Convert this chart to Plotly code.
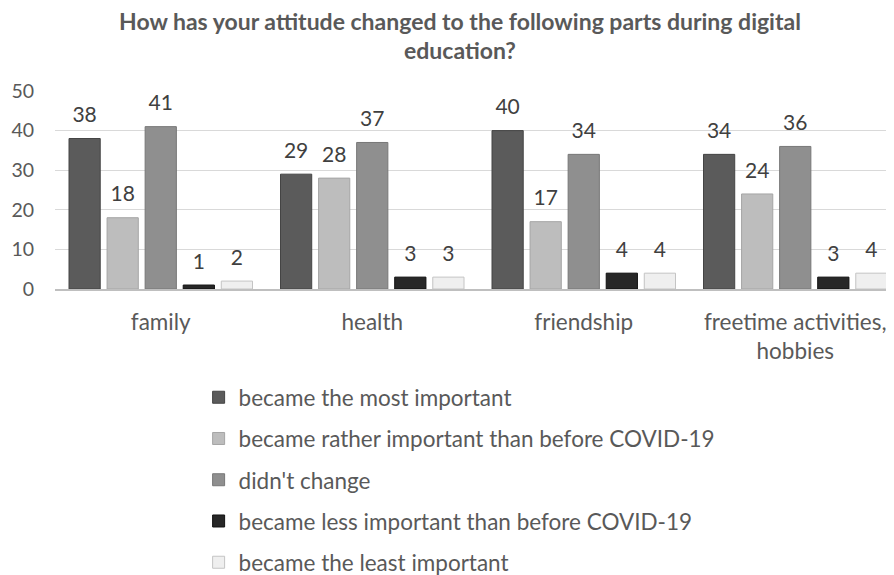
import plotly.graph_objects as go

categories = ["family", "health", "friendship", "freetime activities, hobbies"]
tick_labels = ["family", "health", "friendship", "freetime activities,<br>hobbies"]
series_names = [
    "became the most important",
    "became rather important than before COVID-19",
    "didn't change",
    "became less important than before COVID-19",
    "became the least important",
]
most_important = [38, 29, 40, 34]
rather_important = [18, 28, 17, 24]
didnt_change = [41, 37, 34, 36]
less_important = [1, 3, 4, 3]
least_important = [2, 3, 4, 4]

series_values = [most_important, rather_important, didnt_change, less_important, least_important]
fill_colors = ["#5b5b5b", "#bdbdbd", "#8f8f8f", "#272727", "#efefef"]
line_colors = ["#444444", "#a5a5a5", "#777777", "#111111", "#c4c4c4"]

FONT = "Lato"
fig = go.Figure()
for i, (name, vals) in enumerate(zip(series_names, series_values)):
    fig.add_trace(go.Bar(
        x=categories, y=vals, name=name,
        marker=dict(color=fill_colors[i], line=dict(color=line_colors[i], width=1)),
        offsetgroup=str(i), legendgroup=f"g{i}",
    ))
for i, vals in enumerate(series_values):
    fig.add_trace(go.Scatter(
        x=categories, y=vals, mode="markers+text", text=vals,
        textposition="top center", cliponaxis=False,
        marker=dict(size=16, opacity=0, color="white"),
        textfont=dict(size=21, color="#404040", family=FONT),
        offsetgroup=str(i), showlegend=False, hoverinfo="skip",
    ))

# the page adds an 8px body margin, so the figure is 8px smaller than the window
fig.update_layout(
    width=886, height=567,
    margin=dict(l=47, r=4, t=83, b=286, autoexpand=False),
    plot_bgcolor="white", paper_bgcolor="white",
    barmode="group", bargap=0.10, bargroupgap=0.18,
    scattermode="group", scattergap=0.10,
    title=dict(
        text="<b>How has your attitude changed to the following parts during digital<br>education?</b>",
        x=0.485, xref="paper", xanchor="center", yref="container", y=0.962, yanchor="top",
        font=dict(size=23, color="#595959", family=FONT),
    ),
    font=dict(family=FONT, color="#595959"),
    showlegend=True,
    legend=dict(
        x=0.172, xanchor="left", y=-0.44, yanchor="top",
        orientation="v", traceorder="grouped", tracegroupgap=9,
        font=dict(size=22.5, color="#595959", family=FONT),
        itemwidth=30,
    ),
    xaxis=dict(
        tickmode="array", tickvals=categories, ticktext=tick_labels,
        tickfont=dict(size=22.5, color="#595959", family=FONT),
        showline=True, linecolor="#bfbfbf", linewidth=1.5,
        range=[-0.5, 3.448], ticks="", ticklabelstandoff=12,
    ),
    yaxis=dict(
        range=[0, 50], dtick=10,
        tickfont=dict(size=19.5, color="#595959", family=FONT),
        showgrid=True, gridcolor="#d9d9d9", gridwidth=1.2,
        zeroline=False, ticklabelstandoff=20,
    ),
)

fig.write_html("out.html")
